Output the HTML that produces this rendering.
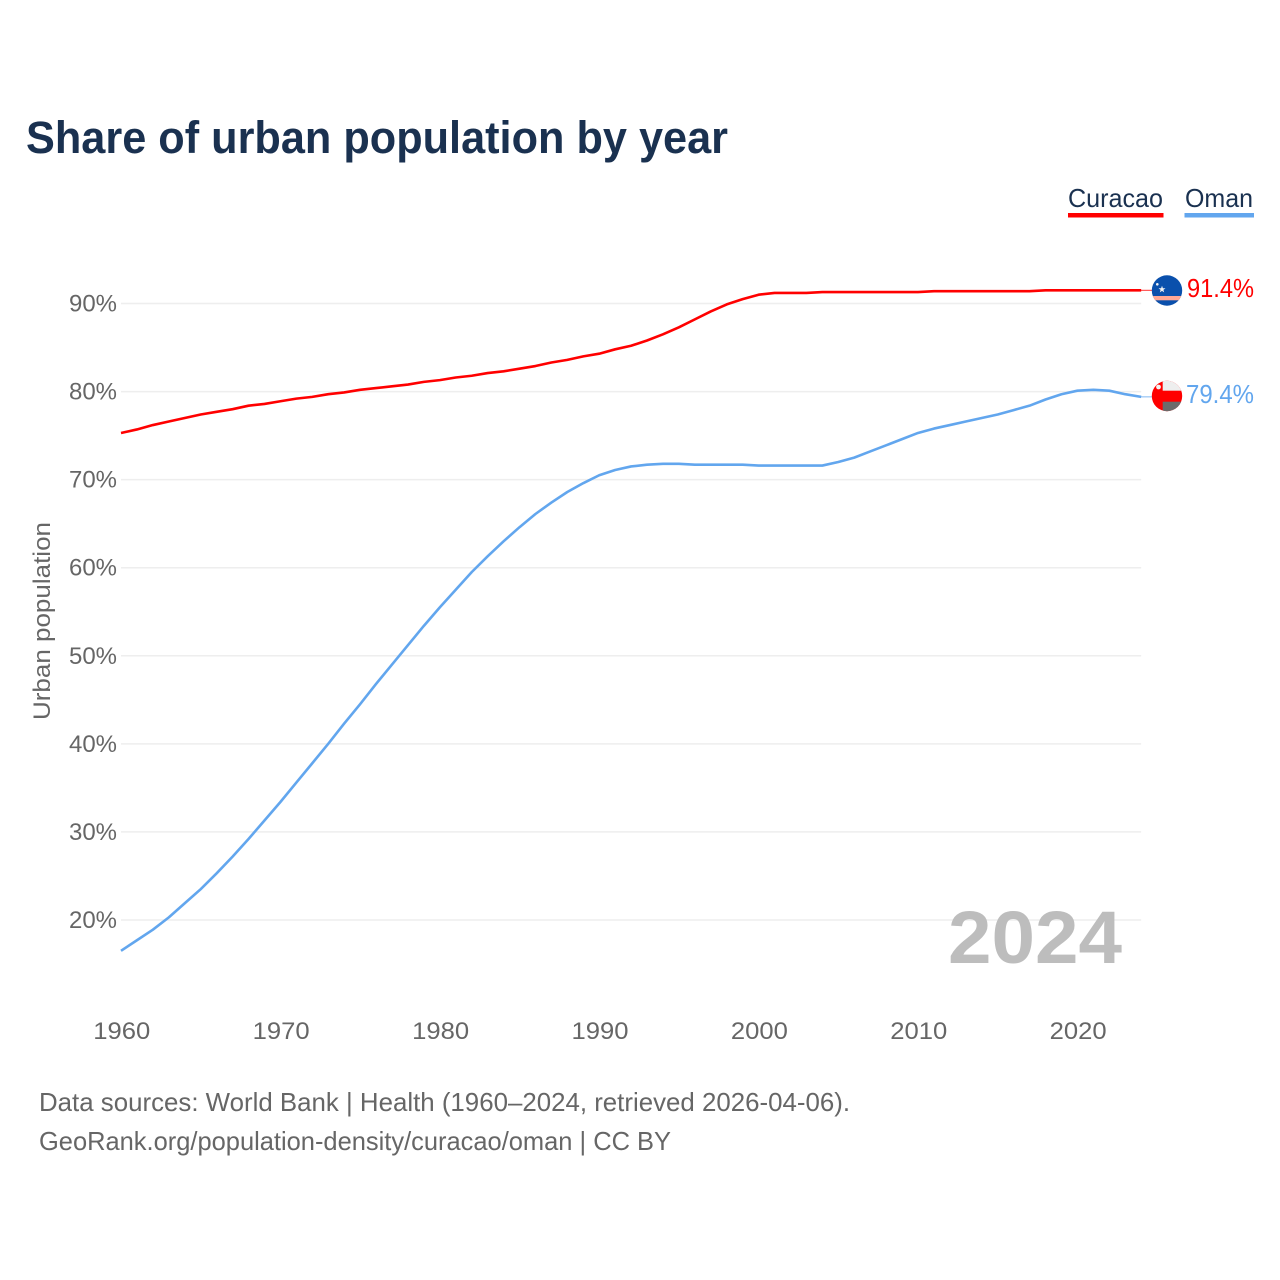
<!DOCTYPE html>
<html lang="en">
<head>
<meta charset="utf-8">
<title>Share of urban population by year</title>
<style>
html,body{margin:0;padding:0;background:#fff;width:1280px;height:1280px;overflow:hidden}
svg{display:block}
text{font-family:"Liberation Sans",sans-serif}
</style>
</head>
<body>
<svg id="chart" width="1280" height="1280" viewBox="0 0 1280 1280" xmlns="http://www.w3.org/2000/svg">
  <defs>
    <clipPath id="flag-clip-a"><circle cx="1167" cy="290.5" r="15.2"/></clipPath>
    <clipPath id="flag-clip-b"><circle cx="1167" cy="396" r="15.2"/></clipPath>
  </defs>
  <rect x="0" y="0" width="1280" height="1280" fill="#fff"/>
  <text x="26" y="153" font-size="45" font-weight="700" fill="#1a3150" textLength="702" lengthAdjust="spacingAndGlyphs">Share of urban population by year</text>

  <g id="grid"></g>
  <g id="yticks"></g>
  <g id="xticks"></g>
  <text transform="translate(50,720) rotate(-90)" font-size="24" fill="#666" textLength="198" lengthAdjust="spacingAndGlyphs">Urban population</text>

  <path id="line-curacao" fill="none" stroke="#ff0000" stroke-width="2.6" stroke-linejoin="round"/>
  <path id="line-oman" fill="none" stroke="#62a6ee" stroke-width="2.6" stroke-linejoin="round"/>
  <line id="stub-curacao" x1="1141" x2="1152" stroke="#ff0000" stroke-width="1" opacity="0.8"/>
  <line id="stub-oman" x1="1141" x2="1152" stroke="#62a6ee" stroke-width="1" opacity="0.8"/>

  <g>
    <text x="1068" y="207" font-size="26" fill="#1a3150" textLength="95" lengthAdjust="spacingAndGlyphs">Curacao</text>
    <rect x="1068" y="213" width="95.500" height="4.500" fill="#ff0000"/>
  </g>
  <g>
    <text x="1185" y="207" font-size="26" fill="#1a3150" textLength="68" lengthAdjust="spacingAndGlyphs">Oman</text>
    <rect x="1184.500" y="213" width="69.500" height="4.500" fill="#62a6ee"/>
  </g>

  <g clip-path="url(#flag-clip-a)">
    <rect x="1151" y="275" width="32" height="31" fill="#0a50ac"/>
    <rect x="1151" y="296" width="32" height="4.300" fill="#ffa896"/>
    <polygon points="1162,285.800 1162.900,288.300 1165.500,288.300 1163.400,289.900 1164.200,292.400 1162,290.900 1159.800,292.400 1160.600,289.900 1158.500,288.300 1161.100,288.300" fill="#f2f2f2"/>
    <circle cx="1157.300" cy="284.300" r="1.300" fill="#f2f2f2"/>
  </g>
  <g clip-path="url(#flag-clip-b)">
    <rect x="1151" y="380" width="32" height="32" fill="#ff0000"/>
    <rect x="1162.700" y="380" width="21" height="10.700" fill="#eeeeee"/>
    <rect x="1162.700" y="401.700" width="21" height="11" fill="#6b6b6b"/>
    <circle cx="1158.500" cy="387" r="2.400" fill="#f4f4f4"/>
  </g>
  <text x="1187" y="297" font-size="26" fill="#ff0000" textLength="67" lengthAdjust="spacingAndGlyphs">91.4%</text>
  <text x="1186" y="403" font-size="26" fill="#62a6ee" textLength="68" lengthAdjust="spacingAndGlyphs">79.4%</text>

  <text x="948" y="963" font-size="74" font-weight="700" fill="#bdbdbd" textLength="174" lengthAdjust="spacingAndGlyphs">2024</text>

  <text x="39" y="1111" font-size="26" fill="#666" textLength="811" lengthAdjust="spacingAndGlyphs">Data sources: World Bank | Health (1960–2024, retrieved 2026-04-06).</text>
  <text x="39" y="1150" font-size="26" fill="#666" textLength="632" lengthAdjust="spacingAndGlyphs">GeoRank.org/population-density/curacao/oman | CC BY</text>
</svg>
<script>
const startYear = 1960;
const curacaoValues = [75.3,75.7,76.2,76.6,77.0,77.4,77.7,78.0,78.4,78.6,78.9,79.2,79.4,79.7,79.9,80.2,80.4,80.6,80.8,81.1,81.3,81.6,81.8,82.1,82.3,82.6,82.9,83.3,83.6,84.0,84.3,84.8,85.2,85.8,86.5,87.3,88.2,89.1,89.9,90.5,91.0,91.2,91.2,91.2,91.3,91.3,91.3,91.3,91.3,91.3,91.3,91.4,91.4,91.4,91.4,91.4,91.4,91.4,91.5,91.5,91.5,91.5,91.5,91.5,91.5];
const omanValues = [16.5,17.7,18.9,20.3,21.9,23.5,25.3,27.2,29.2,31.3,33.4,35.6,37.8,40.0,42.3,44.5,46.8,49.0,51.2,53.4,55.5,57.5,59.5,61.3,63.0,64.6,66.1,67.4,68.6,69.6,70.5,71.1,71.5,71.7,71.8,71.8,71.7,71.7,71.7,71.7,71.6,71.6,71.6,71.6,71.6,72.0,72.5,73.2,73.9,74.6,75.3,75.8,76.2,76.6,77.0,77.4,77.9,78.4,79.1,79.7,80.1,80.2,80.1,79.7,79.4];
const yTickValues = [20,30,40,50,60,70,80,90];
const xTickValues = [1960,1970,1980,1990,2000,2010,2020];

const svgNS = 'http://www.w3.org/2000/svg';
const xScale = function(year){ return 121 + (year - 1960) * 15.94; };
const yScale = function(pct){ return 920 - (pct - 20) * 8.807; };

const gridGroup = document.getElementById('grid');
const yGroup = document.getElementById('yticks');
const xGroup = document.getElementById('xticks');

yTickValues.forEach(function(v){
  const ln = document.createElementNS(svgNS, 'line');
  
  
  ln.setAttribute('x1', xScale(1960));
  ln.setAttribute('x2', xScale(2024));
  ln.setAttribute('y1', yScale(v));
  ln.setAttribute('y2', yScale(v));
  ln.setAttribute('stroke', '#eeeeee');
  ln.setAttribute('stroke-width', '1.5');
  gridGroup.appendChild(ln);

  const t = document.createElementNS(svgNS, 'text');
  
  
  t.setAttribute('x', 117);
  t.setAttribute('y', yScale(v) + 8);
  t.setAttribute('text-anchor', 'end');
  t.setAttribute('font-size', '24');
  t.setAttribute('fill', '#666');
  t.setAttribute('textLength', '48');
  t.setAttribute('lengthAdjust', 'spacingAndGlyphs');
  t.textContent = v + '%';
  yGroup.appendChild(t);
});

xTickValues.forEach(function(v){
  const t = document.createElementNS(svgNS, 'text');
  
  
  t.setAttribute('x', xScale(v) + 0.8);
  t.setAttribute('y', 1039);
  t.setAttribute('text-anchor', 'middle');
  t.setAttribute('font-size', '24');
  t.setAttribute('fill', '#666');
  t.setAttribute('textLength', '57');
  t.setAttribute('lengthAdjust', 'spacingAndGlyphs');
  t.textContent = v;
  xGroup.appendChild(t);
});

function linePath(values){
  return values.map(function(v, i){
    return (i ? 'L' : 'M') + xScale(startYear + i).toFixed(2) + ' ' + yScale(v).toFixed(2);
  }).join(' ');
}
document.getElementById('line-curacao').setAttribute('d', linePath(curacaoValues));
document.getElementById('line-oman').setAttribute('d', linePath(omanValues));

const stubCuracao = document.getElementById('stub-curacao');
stubCuracao.setAttribute('y1', yScale(curacaoValues[curacaoValues.length - 1]));
stubCuracao.setAttribute('y2', yScale(curacaoValues[curacaoValues.length - 1]));
const stubOman = document.getElementById('stub-oman');
stubOman.setAttribute('y1', yScale(omanValues[omanValues.length - 1]));
stubOman.setAttribute('y2', yScale(omanValues[omanValues.length - 1]));
</script>
</body>
</html>
